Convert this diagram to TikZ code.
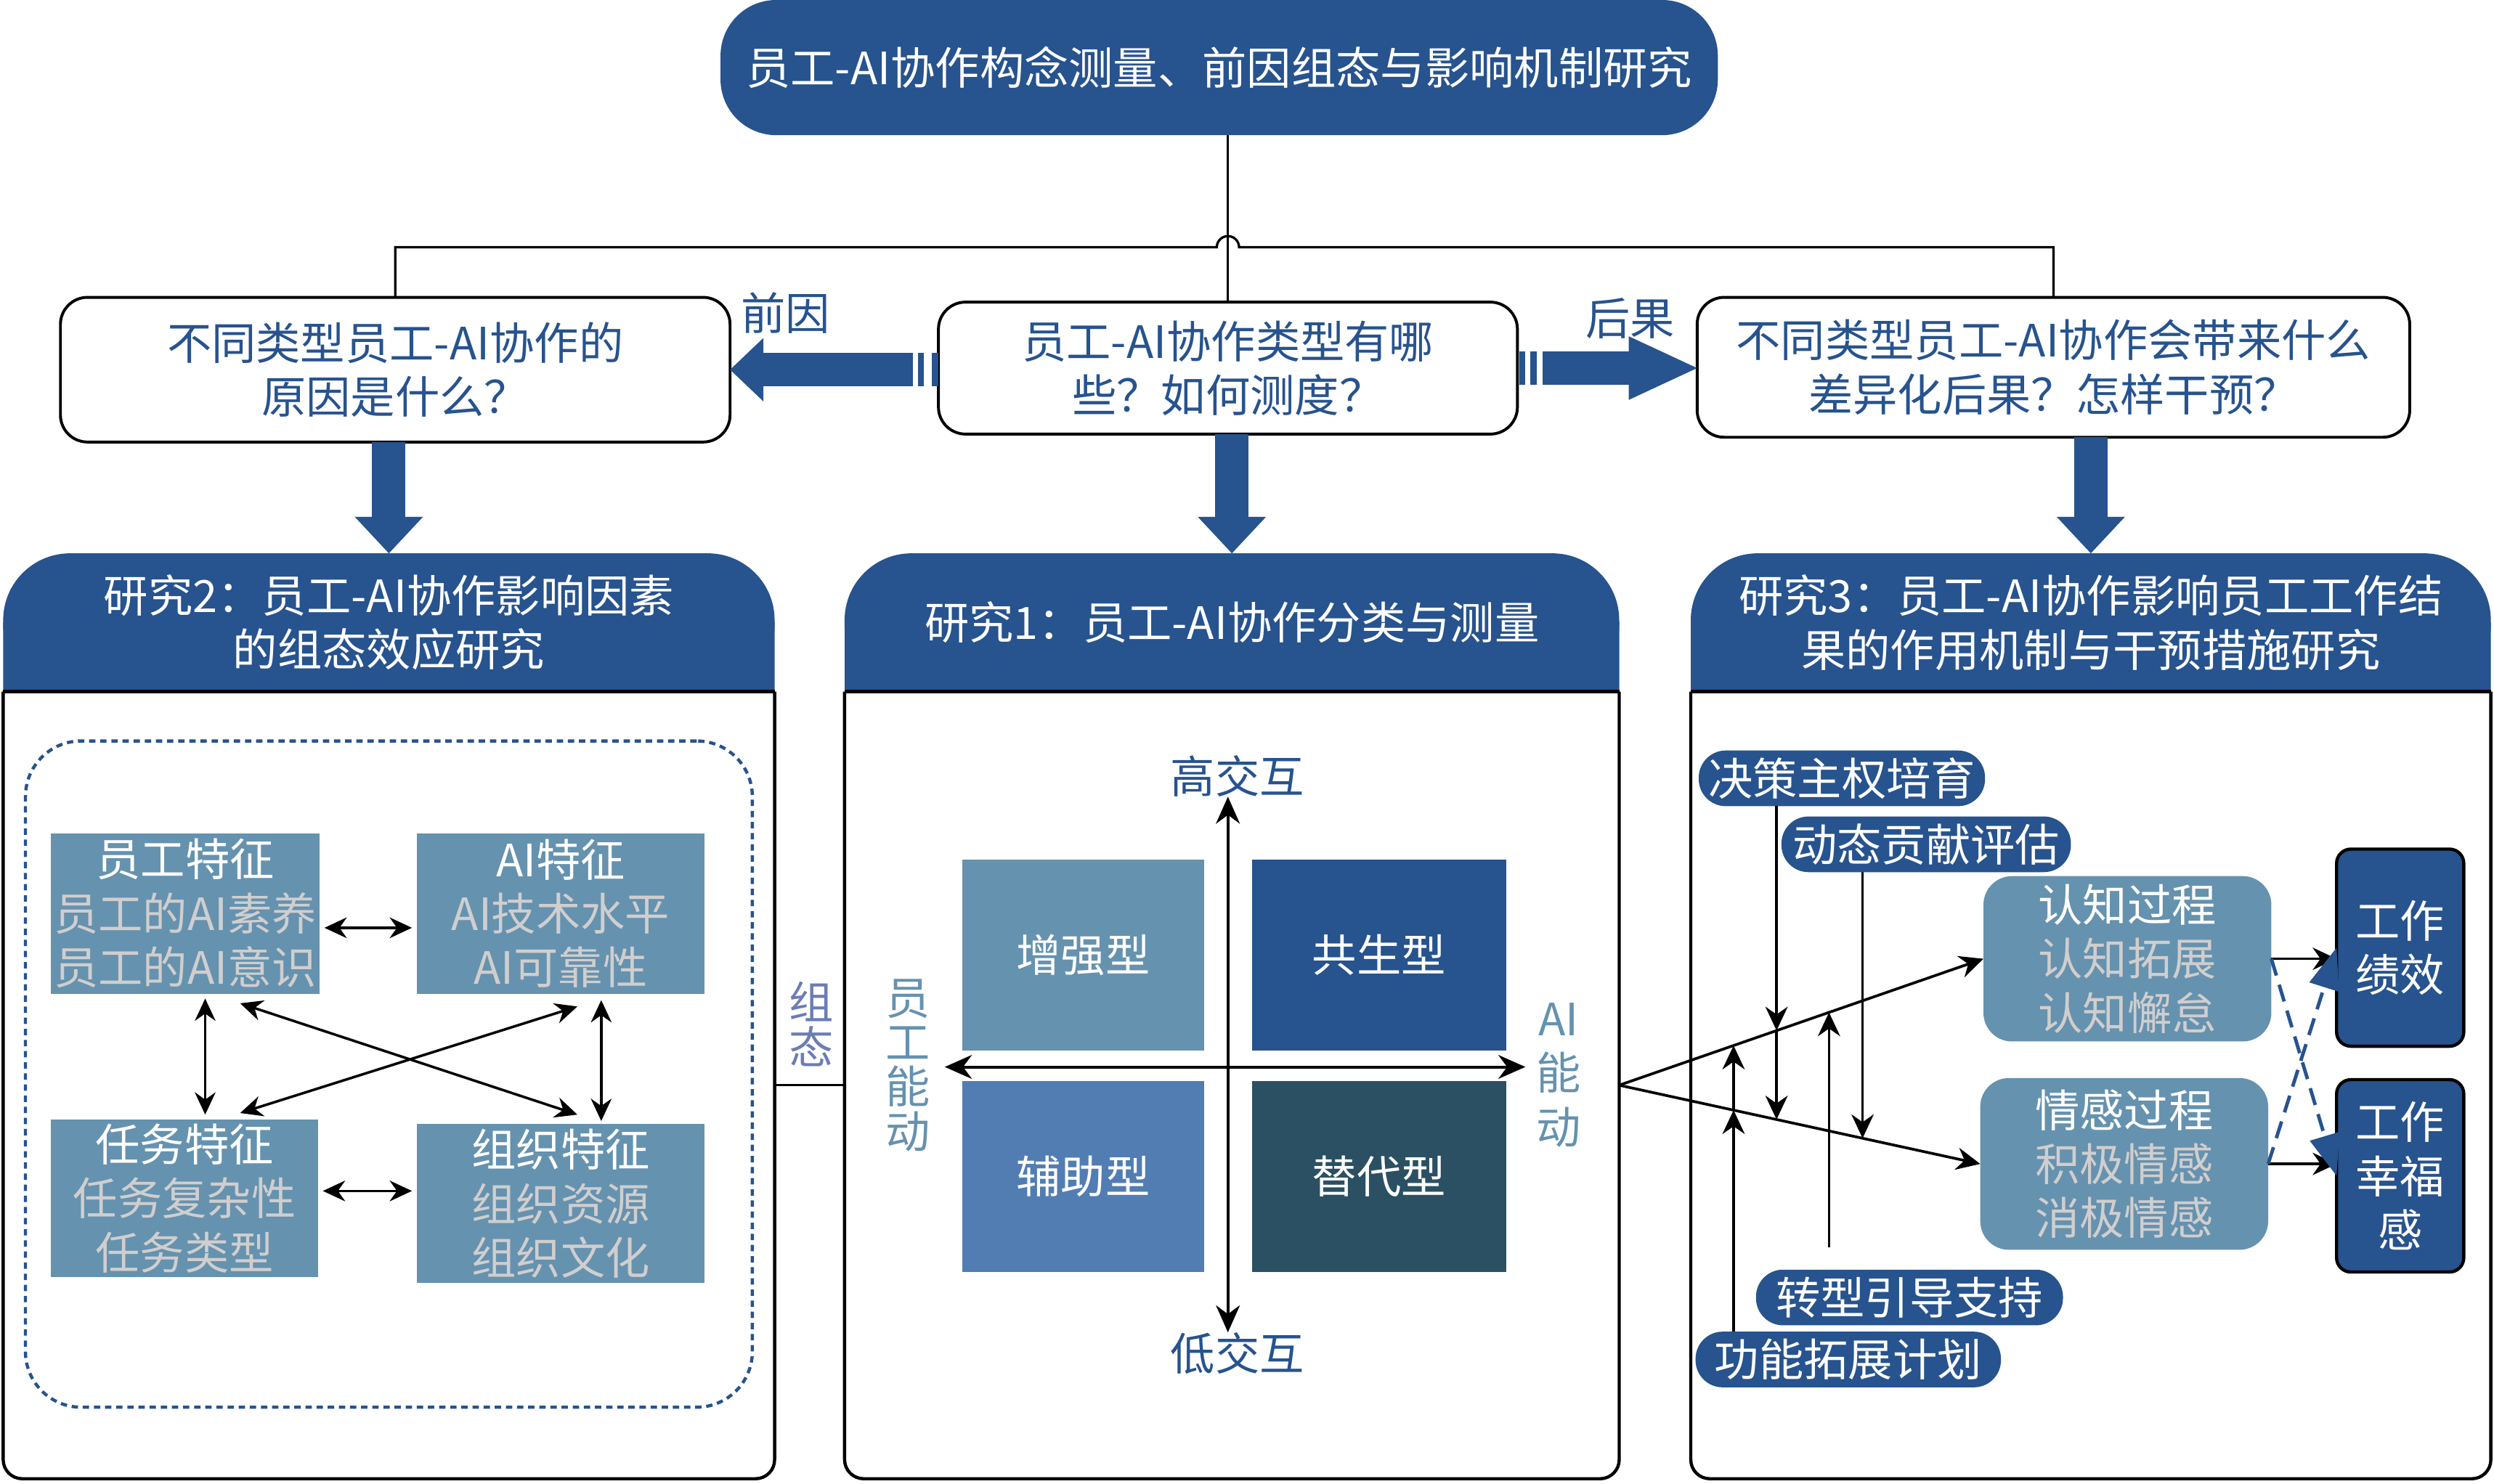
\documentclass[tikz,border=0pt]{standalone}
\usepackage{fontspec}
\setmainfont{Noto Sans CJK SC}
\usetikzlibrary{arrows.meta,calc}
\definecolor{c27538e}{RGB}{39,83,142}
\definecolor{c6592af}{RGB}{101,146,175}
\definecolor{c527db3}{RGB}{82,125,179}
\definecolor{c2b5063}{RGB}{43,80,99}
\definecolor{cd0cece}{RGB}{208,206,206}
\definecolor{c6b7db3}{RGB}{107,125,179}

\begin{document}
\begin{tikzpicture}[y=1pt, x=1pt, yscale=-1, inner sep=0pt, outer sep=0pt,
  every node/.style={font=\fontsize{28}{34}\selectfont, align=center},
  qbox/.style={draw=black, line width=1.8pt, rounded corners=17pt, fill=white, text=c27538e},
  hdr/.style={minimum height=87pt, text=white, path picture={
    \fill[c27538e, rounded corners=42pt] (path picture bounding box.south west) rectangle (path picture bounding box.north east);
    \fill[c27538e] ($(path picture bounding box.south west)!0.5!(path picture bounding box.north west)$) rectangle (path picture bounding box.south east);}},
  panel/.style={minimum height=495pt},
  fbox/.style={fill=c6592af, text=cd0cece},
  quadbox/.style={minimum height=120pt, text=white},
  pill/.style={fill=c27538e, text=white, rounded corners=17pt, minimum height=35pt},
  proc/.style={fill=c6592af, text=cd0cece, rounded corners=18pt, minimum width=181pt},
  outc/.style={fill=c27538e, draw=black, line width=2pt, rounded corners=9pt, text=white, minimum width=80pt},
  vlab/.style={font=\fontsize{28}{28}\selectfont},
  rim/.style={line width=2pt},
  blk/.style={c27538e, line width=21pt},
  dbl/.style={{Stealth[length=14pt,width=13pt]}-{Stealth[length=14pt,width=13pt]}, line width=1.6pt},
  qaxis/.style={{Stealth[length=17pt,width=15pt]}-{Stealth[length=17pt,width=15pt]}, line width=1.8pt},
  arr/.style={-{Stealth[length=15pt,width=14pt]}, line width=1.7pt},
  dsh/.style={c27538e, line width=2.2pt, dash pattern=on 11pt off 6pt, -{Triangle[length=26pt,width=19pt]}}]
  \useasboundingbox (0,0) rectangle (1568,933);

  \node[fill=c27538e, text=white, rounded corners=35pt, minimum width=627pt, minimum height=85pt] (title) at (766.5,42.5) {员工-AI协作构念测量、前因组态与影响机制研究};

  \node[qbox, minimum width=421pt, minimum height=91pt] (qleft) at (248.5,232.5) {不同类型员工-AI协作的\\原因是什么？};
  \node[qbox, minimum width=364pt, minimum height=83pt] (qmid) at (772,231.5) {员工-AI协作类型有哪\\些？如何测度？};
  \node[qbox, minimum width=448pt, minimum height=88pt] (qright) at (1291,231) {不同类型员工-AI协作会带来什么\\差异化后果？怎样干预？};

  \coordinate (bus) at ($(qmid.north)+(0,-34.5)$);
  \draw[line width=1.2pt] (qmid.north |- title.south) -- (qmid.north);
  \draw[line width=1.5pt] (qleft.north) |- ($(bus)+(-7,0)$) arc (180:360:7) -| (qright.north);

  \fill[c27538e] ($(qmid.west)+(-4,-9.5)$) rectangle ++(4,21);
  \fill[c27538e] ($(qmid.west)+(-13,-9.5)$) rectangle ++(4,21);
  \draw[blk, -{Triangle[length=21pt,width=40pt,line width=0pt]}] ($(qmid.west)+(-16,1)$) -- (qleft.east);
  \fill[c27538e] ($(qmid.east)+(1,-10.5)$) rectangle ++(4,21);
  \fill[c27538e] ($(qmid.east)+(8,-10.5)$) rectangle ++(4,21);
  \draw[blk, -{Triangle[length=43pt,width=40pt,line width=0pt]}] ($(qmid.east)+(16,0)$) -- (qmid.east -| qright.west);
  \node[text=c27538e] (lblpre) at (494,197) {前因};
  \node[text=c27538e] (lblpost) at (1025,200) {后果};

  \node[hdr, minimum width=485pt] (hdr2) at (244.5,391.5) {研究2：员工-AI协作影响因素\\的组态效应研究};
  \node[panel, minimum width=485pt] (body2) at (244.5,682.5) {};
  \draw[rim, rounded corners=12pt] (body2.north west) -- (body2.south west) -- (body2.south east) -- (body2.north east);
  \draw[rim] (body2.north west) -- (body2.north east);
  \node[hdr, minimum width=487pt] (hdr1) at (774.5,391.5) {研究1：员工-AI协作分类与测量};
  \node[panel, minimum width=487pt] (body1) at (774.5,682.5) {};
  \draw[rim, rounded corners=12pt] (body1.north west) -- (body1.south west) -- (body1.south east) -- (body1.north east);
  \draw[rim] (body1.north west) -- (body1.north east);
  \node[hdr, minimum width=503pt] (hdr3) at (1314.5,391.5) {研究3：员工-AI协作影响员工工作结\\果的作用机制与干预措施研究};
  \node[panel, minimum width=503pt] (body3) at (1314.5,682.5) {};
  \draw[rim, rounded corners=12pt] (body3.north west) -- (body3.south west) -- (body3.south east) -- (body3.north east);
  \draw[rim] (body3.north west) -- (body3.north east);

  \draw[blk, -{Triangle[length=23pt,width=43pt,line width=0pt]}] (hdr2.north |- qleft.south) -- (hdr2.north);
  \draw[blk, -{Triangle[length=23pt,width=43pt,line width=0pt]}] (hdr1.north |- qmid.south) -- (hdr1.north);
  \draw[blk, -{Triangle[length=23pt,width=43pt,line width=0pt]}] (hdr3.north |- qright.south) -- (hdr3.north);

  \node[draw=c27538e, dash pattern=on 4pt off 3pt, line width=2pt, rounded corners=35pt, minimum width=457pt, minimum height=419pt] (cfg) at (244.5,675.5) {};
  \node[fbox, minimum width=169pt, minimum height=101pt] (f1) at (116.5,574.5) {{\color{white}员工特征}\\员工的AI素养\\员工的AI意识};
  \node[fbox, minimum width=181pt, minimum height=101pt] (f2) at (352.5,574.5) {{\color{white}AI特征}\\AI技术水平\\AI可靠性};
  \node[fbox, minimum width=168pt, minimum height=99pt] (f3) at (116,753.5) {{\color{white}任务特征}\\任务复杂性\\任务类型};
  \node[fbox, minimum width=181pt, minimum height=100pt] (f4) at (352.5,757) {{\color{white}组织特征}\\组织资源\\组织文化};
  \draw[dbl] ($(f1.east)+(3,9)$) -- ($(f1.east -| f2.west)+(-3,9)$);
  \draw[dbl] ($(f3.east)+(3,-4.5)$) -- ($(f3.east -| f4.west)+(-3,-4.5)$);
  \draw[dbl] ($(f1.south)+(12.5,3)$) -- ($(f3.north)+(13,-3)$);
  \draw[dbl] ($(f2.south)+(25.5,4)$) -- ($(f4.north)+(25.5,-2)$);
  \draw[dbl] ($(f1.south)+(34.5,6)$) -- ($(f4.north)+(10.5,-6)$);
  \draw[dbl] ($(f2.south)+(10.5,8)$) -- ($(f3.north)+(35,-4)$);

  \draw[line width=1.5pt] (body2.east) -- (body1.west);
  \node[vlab, text=c6b7db3] (zt) at (510,644) {组\\态};

  \node[quadbox, fill=c6592af, minimum width=152pt] (tzq) at (681,600.5) {增强型};
  \node[quadbox, fill=c27538e, minimum width=160pt] (tgs) at (867,600.5) {共生型};
  \node[quadbox, fill=c527db3, minimum width=152pt] (tfz) at (681,740) {辅助型};
  \node[quadbox, fill=c2b5063, minimum width=160pt] (ttd) at (867,740) {替代型};
  \node[text=c27538e] (hi) at (778,488) {高交互};
  \node[text=c27538e] (lo) at (778,851) {低交互};
  \node[vlab, text=c6592af] (yg) at (571,670) {员\\工\\能\\动};
  \node[text=c6592af] (ai) at (980,676) {AI\\能\\动};
  \coordinate (orig) at (772,671);
  \draw[qaxis] (orig |- hi.south) -- (orig |- lo.north);
  \draw[qaxis, shorten <=9pt, shorten >=7pt] (yg.east |- orig) -- (ai.west |- orig);

  \node[pill, minimum width=180pt] (jc) at (1158,489.5) {决策主权培育};
  \node[pill, minimum width=182pt] (pg) at (1211,531) {动态贡献评估};
  \node[pill, minimum width=193pt] (zx) at (1200.5,816) {转型引导支持};
  \node[pill, minimum width=192pt] (gn) at (1162,855) {功能拓展计划};
  \node[proc, minimum height=104pt] (cog) at (1337.5,603) {{\color{white}认知过程}\\认知拓展\\认知懈怠};
  \node[proc, minimum height=108pt] (emo) at (1335.5,732) {{\color{white}情感过程}\\积极情感\\消极情感};
  \node[outc, minimum height=124pt] (perf) at (1509,596) {工作\\绩效};
  \node[outc, minimum height=121pt] (well) at (1509,739.5) {工作\\幸福\\感};

  \draw[arr] (body1.east) -- (cog.west) coordinate[pos=0.314] (pa4) coordinate[pos=0.432] (pa1) coordinate[pos=0.576] (pa3);
  \draw[arr] (body1.east) -- (emo.west) coordinate[pos=0.317] (pb4) coordinate[pos=0.436] (pb1) coordinate[pos=0.674] (pb2);
  \draw[arr] (pa1 |- jc.south) -- (pa1);
  \draw[arr] (pa1) -- (pa1 |- pb1);
  \draw[arr] (pb2 |- pg.south) -- (pb2);
  \draw[arr, shorten <=14pt] (pa3 |- zx.north) -- (pa3);
  \draw[arr] (pa4 |- gn.north) -- (pa4 |- pb4);
  \draw[arr] (pa4 |- pb4) -- (pa4);
  \draw[arr] (cog.east) -- (cog.east -| perf.west);
  \draw[arr] (emo.east) -- (emo.east -| well.west);
  \draw[dsh] (cog.east) -- (well.west);
  \draw[dsh] (emo.east) -- (perf.west);
\end{tikzpicture}
\end{document}
